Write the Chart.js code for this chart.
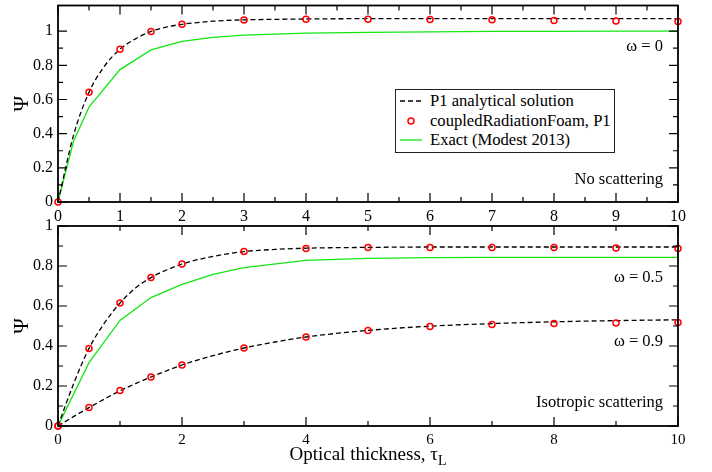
<!DOCTYPE html>
<html>
<head>
	<meta charset="utf-8"/>
	<title>P1 radiation slab</title>
	<script src="https://cdn.jsdelivr.net/npm/chart.js"></script>
	<style type="text/css">
		body{margin:0;background:#fff;width:712px;height:472px;overflow:hidden;position:relative;font-family:"Liberation Serif","DejaVu Serif",serif;color:#000}
		canvas{position:absolute;left:0}
		.note{position:absolute;right:49px;font-size:16.5px;line-height:20px;white-space:nowrap}
		#legend{position:absolute;left:395px;top:89px;width:220px;height:64px;box-sizing:border-box;border:1.3px solid #222;background:#fff}
		#legend .row{position:absolute;left:0;height:20px;display:flex;align-items:center;font-size:16.6px;white-space:nowrap}
		#legend svg{margin-left:4px;margin-right:8px}
		#xtitle{position:absolute;left:58px;width:620px;top:442px;text-align:center;font-size:19px;line-height:24px}
		#xtitle span{position:relative;top:5px;font-size:14px;line-height:0}
	</style>
	<script>
	// optical thickness positions
	const tauP1 = [0,0.25,0.5,0.75,1,1.25,1.5,1.75,2,2.5,3,3.5,4,5,6,7,8,9,10];
	const tauFoam = [0,0.5,1,1.5,2,3,4,5,6,7,8,9,10];
	const tauExactTop = [0,0.25,0.5,1,1.5,2,2.5,3,4,5,6,7,8,9,10];
	const tauExactBot = [0,0.5,1,1.5,2,2.5,3,4,5,6,7,8,9,10];

	// omega = 0
	const p1W0 = [0,0.39,0.642,0.795,0.894,0.955,0.998,1.024,1.040,1.058,1.066,1.069,1.071,1.073,1.073,1.073,1.073,1.073,1.073];
	const foamW0 = [0,0.642,0.894,0.998,1.040,1.065,1.069,1.069,1.068,1.066,1.062,1.060,1.057];
	const exactW0 = [0,0.355,0.555,0.775,0.89,0.94,0.963,0.977,0.988,0.993,0.996,0.998,0.999,1.0,1.0];

	// omega = 0.5 and 0.9
	const p1W05 = [0,0.21,0.388,0.515,0.615,0.69,0.742,0.78,0.81,0.848,0.872,0.883,0.889,0.893,0.895,0.895,0.895,0.895,0.895];
	const p1W09 = [0,0.047,0.092,0.135,0.176,0.212,0.245,0.276,0.305,0.352,0.39,0.42,0.445,0.478,0.499,0.512,0.521,0.527,0.531];
	const foamW05 = [0,0.388,0.615,0.742,0.81,0.872,0.888,0.893,0.893,0.892,0.892,0.89,0.888];
	const foamW09 = [0,0.093,0.177,0.245,0.305,0.39,0.445,0.477,0.498,0.507,0.513,0.515,0.517];
	const exactW05 = [0,0.317,0.528,0.642,0.708,0.758,0.792,0.828,0.838,0.842,0.843,0.843,0.843,0.843];

	const GREEN = 'rgb(20,230,20)';
	const FONT = '"Liberation Serif","DejaVu Serif",serif';

	function pts(xs, ys){ return xs.map((x,i)=>({x:x, y:ys[i]})); }

	function p1Line(xs, ys){
		return {data:pts(xs,ys), showLine:true, borderColor:'#000', borderWidth:1.3, borderDash:[5,3],
			pointRadius:0, cubicInterpolationMode:'monotone', fill:false};
	}
	function foamDots(xs, ys){
		return {data:pts(xs,ys), showLine:false, borderColor:'rgb(255,0,0)', backgroundColor:'rgba(0,0,0,0)',
			pointRadius:3, pointBorderWidth:1.5, clip:false};
	}
	function exactLine(xs, ys){
		return {data:pts(xs,ys), showLine:true, borderColor:GREEN, borderWidth:1.3, pointRadius:0, tension:0, fill:false};
	}

	function onStep(v, step){
		return Math.abs(v/step - Math.round(v/step)) < 1e-6;
	}

	// xmgrace style ticks: pointing inwards on all four sides, plus the frame
	const innerTicks = {
		id:'innerTicks',
		afterDatasetsDraw(chart, args, opts){
			const ctx = chart.ctx, a = chart.chartArea;
			ctx.save();
			ctx.strokeStyle = '#000';
			ctx.lineWidth = 1.2;
			['x','y'].forEach(function(id){
				const s = chart.scales[id], o = opts[id];
				s.ticks.forEach(function(t){
					if (!onStep(t.value, o.minor)) return;
					const len = onStep(t.value, o.major) ? 9 : 5;
					const p = s.getPixelForValue(t.value);
					ctx.beginPath();
					if (id === 'x') {
						ctx.moveTo(p, a.bottom); ctx.lineTo(p, a.bottom-len);
						ctx.moveTo(p, a.top); ctx.lineTo(p, a.top+len);
					} else {
						ctx.moveTo(a.left, p); ctx.lineTo(a.left+len, p);
						ctx.moveTo(a.right, p); ctx.lineTo(a.right-len, p);
					}
					ctx.stroke();
				});
			});
			ctx.lineWidth = 1.8;
			ctx.strokeRect(a.left, a.top, a.right-a.left, a.bottom-a.top);
			ctx.restore();
		}
	};

	function makeChart(el, datasets, cfg){
		return new Chart(el, {
			type:'scatter',
			data:{datasets:datasets},
			plugins:[innerTicks],
			options:{
				responsive:false,
				animation:false,
				layout:{padding:{top:cfg.padTop, right:34, left:0, bottom:0}},
				plugins:{legend:{display:false}, tooltip:{enabled:false}, innerTicks:{x:cfg.xTicks, y:{major:0.2, minor:0.1}}},
				scales:{
					x:{
						type:'linear', min:0, max:10,
						grid:{display:true, drawOnChartArea:false, drawTicks:false},
						border:{display:false},
						ticks:{stepSize:cfg.xTicks.minor, autoSkip:false, maxRotation:0, padding:5, color:'#000',
							font:{family:FONT, size:cfg.xFont},
							callback:function(v){ return onStep(v, cfg.xTicks.major) ? String(Math.round(v)) : ''; }},
						afterFit:function(s){ s.height = cfg.xHeight; s.paddingLeft = 0; s.paddingRight = 0; }
					},
					y:{
						type:'linear', min:0, max:cfg.yMax,
						grid:{display:true, drawOnChartArea:false, drawTicks:false},
						border:{display:false},
						ticks:{stepSize:0.1, autoSkip:false, padding:5, color:'#000', font:{family:FONT, size:16},
							callback:function(v){ return onStep(v, 0.2) ? String(Math.round(v*10)/10) : ''; }},
						title:{display:true, text:'Ψ', color:'#000', font:{family:FONT, size:21}, padding:{top:10, bottom:0}},
						afterFit:function(s){ s.width = 58; s.paddingTop = 0; s.paddingBottom = 0; }
					}
				}
			}
		});
	}

	window.onload = function(){
		makeChart(document.getElementById('top'), [
			foamDots(tauFoam, foamW0),
			p1Line(tauP1, p1W0),
			exactLine(tauExactTop, exactW0)
		], {padTop:3, yMax:1.15, xHeight:24, xFont:16, xTicks:{major:1, minor:0.5}});

		makeChart(document.getElementById('bottom'), [
			foamDots(tauFoam, foamW05),
			foamDots(tauFoam, foamW09),
			p1Line(tauP1, p1W05),
			p1Line(tauP1, p1W09),
			exactLine(tauExactBot, exactW05)
		], {padTop:14, yMax:1, xHeight:46, xFont:15, xTicks:{major:2, minor:1}});
	};
	</script>
</head>
<body>
	<canvas id="top" width="712" height="226" style="top:0"></canvas>
	<canvas id="bottom" width="712" height="260" style="top:212px"></canvas>

	<div class="note" style="top:36px">ω = 0</div>
	<div class="note" style="top:169px">No scattering</div>
	<div class="note" style="top:267px">ω = 0.5</div>
	<div class="note" style="top:331px">ω = 0.9</div>
	<div class="note" style="top:392px">Isotropic scattering</div>

	<div id="legend">
		<div class="row" style="top:1px">
			<svg width="22" height="10"><line x1="0" y1="5" x2="22" y2="5" stroke="#000" stroke-width="1.3" stroke-dasharray="5,3"/></svg>P1 analytical solution
		</div>
		<div class="row" style="top:20.5px">
			<svg width="22" height="10"><circle cx="11" cy="5" r="3" fill="none" stroke="rgb(255,0,0)" stroke-width="1.5"/></svg>coupledRadiationFoam, P1
		</div>
		<div class="row" style="top:40px">
			<svg width="22" height="10"><line x1="0" y1="5" x2="22" y2="5" stroke="rgb(20,230,20)" stroke-width="1.3"/></svg>Exact (Modest 2013)
		</div>
	</div>

	<div id="xtitle">Optical thickness, τ<span>L</span></div>
</body>
</html>
